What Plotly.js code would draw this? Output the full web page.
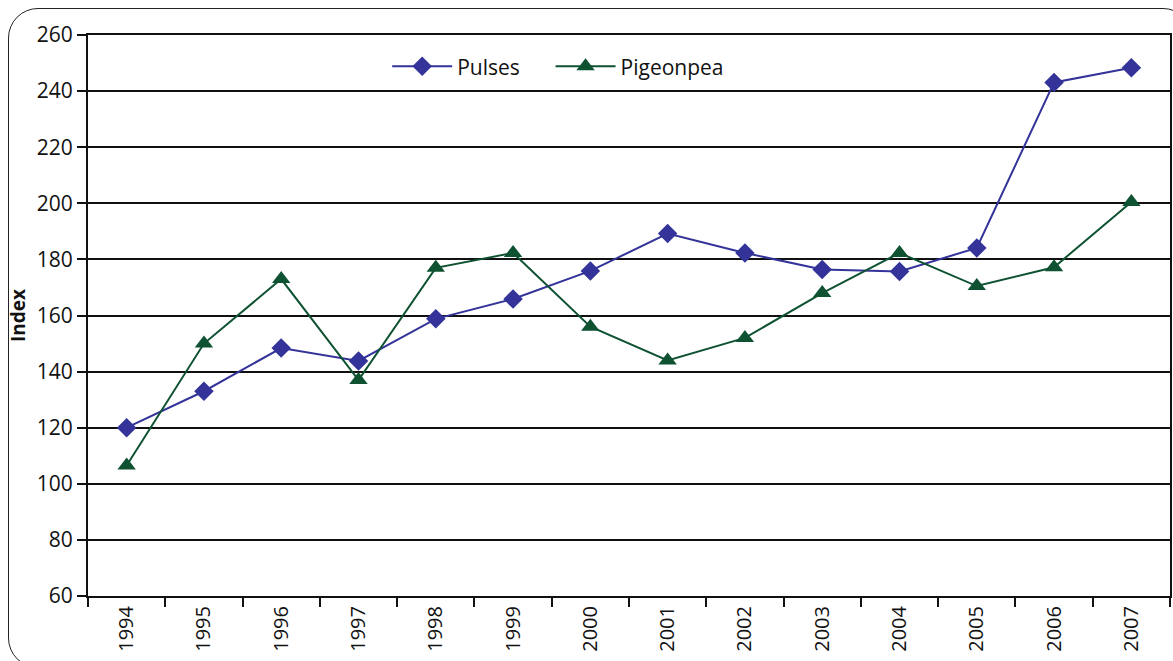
<!DOCTYPE html>
<html>
<head>
<meta charset="utf-8">
<script src="https://cdn.plot.ly/plotly-3.0.1.min.js"></script>
<style>
  html, body { margin:0; padding:0; background:#fff; overflow:hidden; }
  #frame { position:absolute; left:8px; top:8px; width:1185px; height:660px; border:1.5px solid #222; border-radius:30px; box-sizing:border-box; }
  #chart { position:absolute; left:0; top:0; width:1173px; height:661px; }
</style>
</head>
<body>
<div id="frame"></div>
<div id="chart"></div>
<script>
const years = ["1994","1995","1996","1997","1998","1999","2000","2001","2002","2003","2004","2005","2006","2007"];
const pulses = [120, 133, 148.4, 143.8, 158.8, 165.9, 175.9, 189.2, 182.3, 176.4, 175.7, 184.1, 243.1, 248.3];
const pigeonpea = [106.5, 150, 173, 137, 177, 182.3, 156, 144, 152, 168, 182.3, 170.5, 177.2, 200.5];
const tickVals = [60, 80, 100, 120, 140, 160, 180, 200, 220, 240, 260];

const font = "Open Sans, DejaVu Sans, sans-serif";

const traces = [
  {x: years, y: pulses, name: "Pulses", type: "scatter", mode: "lines+markers",
   line: {color: "#333399", width: 2},
   marker: {symbol: "diamond", size: 15, color: "#333399"}, legend: "legend"},
  {x: years, y: pigeonpea, name: "Pigeonpea", type: "scatter", mode: "lines+markers",
   line: {color: "#0e5232", width: 2},
   marker: {symbol: "triangle-up", size: 16, color: "#0e5232"}, legend: "legend2"}
];

const legendBase = {orientation: "h", xanchor: "left", y: 0.98, yanchor: "top",
  font: {family: font, size: 21, color: "#111"}, bgcolor: "rgba(0,0,0,0)", itemwidth: 60};

const layout = {
  width: 1173, height: 661,
  margin: {l: 88, r: 3, t: 35, b: 65},
  paper_bgcolor: "rgba(0,0,0,0)",
  plot_bgcolor: "rgba(0,0,0,0)",
  font: {family: font, size: 21, color: "#111"},
  showlegend: true,
  legend: Object.assign({}, legendBase, {x: 0.2765}),
  legend2: Object.assign({}, legendBase, {x: 0.4275}),
  xaxis: {type: "category", range: [-0.5, 13.5], tickangle: -90,
          showline: true, linecolor: "#111", linewidth: 2, mirror: true,
          ticks: "outside", ticklen: 9, tickwidth: 2, tickcolor: "#111",
          tickson: "boundaries", showgrid: false, zeroline: false,
          tickfont: {family: font, size: 20, color: "#111"}},
  yaxis: {range: [60, 260], tickvals: tickVals, ticktext: tickVals.map(String),
          showline: true, linecolor: "#111", linewidth: 2, mirror: true,
          ticks: "outside", ticklen: 9, tickwidth: 2, tickcolor: "#111",
          showgrid: true, gridcolor: "#111", gridwidth: 2, zeroline: false,
          tickfont: {family: font, size: 21, color: "#111"},
          title: {text: "<b>Index</b>", font: {family: font, size: 19, color: "#111"}, standoff: 6}}
};

Plotly.newPlot("chart", traces, layout, {displayModeBar: false, staticPlot: true});
</script>
</body>
</html>
